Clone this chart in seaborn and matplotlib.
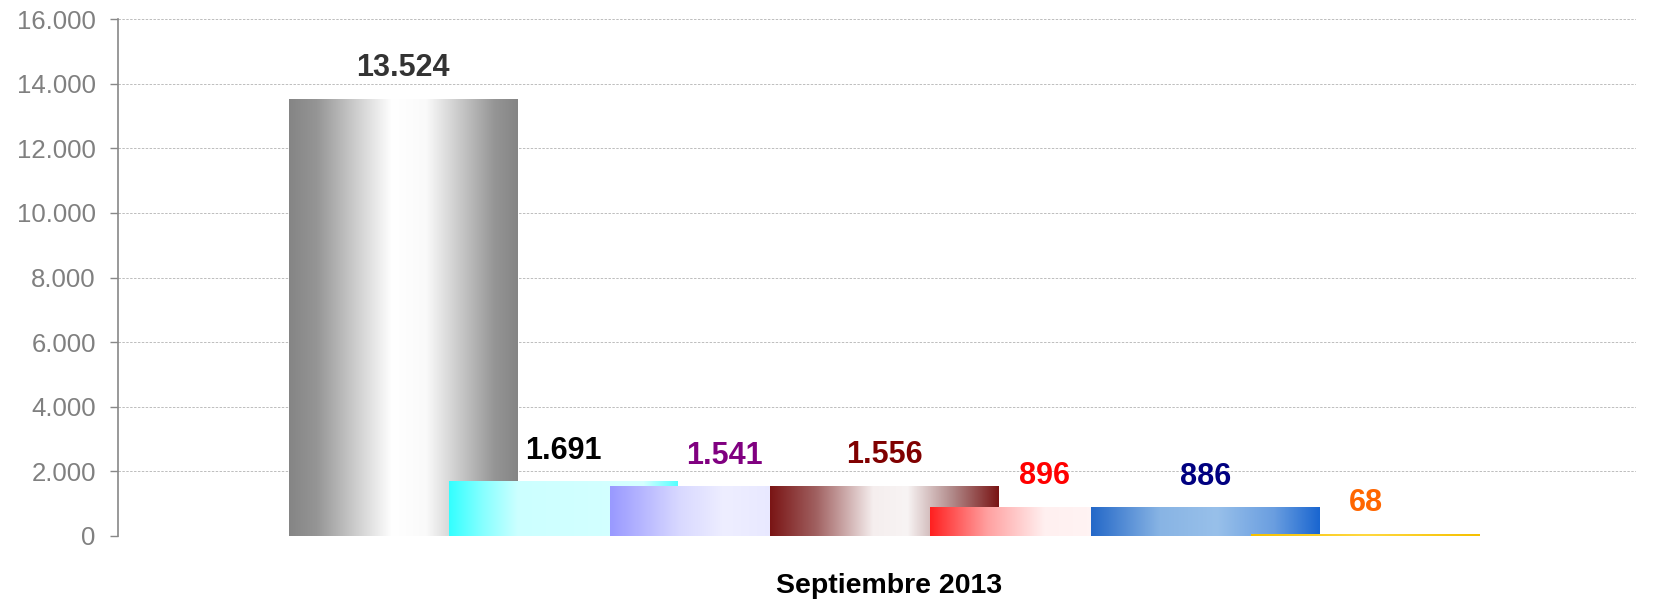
import seaborn as sns
import matplotlib.pyplot as plt
import pandas as pd
import numpy as np
from matplotlib.colors import LinearSegmentedColormap
from matplotlib.ticker import FuncFormatter

# Data
periodo = ['Septiembre 2013']
series = ['Serie 1', 'Serie 2', 'Serie 3', 'Serie 4', 'Serie 5', 'Serie 6', 'Serie 7']
valores = [13524, 1691, 1541, 1556, 896, 886, 68]
label_colors = ['#333333', '#000000', '#800080', '#800000', '#ff0000', '#000080', '#ff6600']

# horizontal gradient stops for each bar
gradients = [
    [(0, '#858585'), (0.12, '#959595'), (0.3, '#d0d0d0'), (0.45, '#ffffff'),
     (0.6, '#fafafa'), (0.75, '#c8c8c8'), (0.9, '#959595'), (1, '#858585')],
    [(0, '#33ffff'), (0.15, '#88ffff'), (0.3, '#ccffff'), (0.85, '#d5ffff'), (1, '#55ffff')],
    [(0, '#9999ff'), (0.3, '#d8d8ff'), (0.5, '#eeeeff'), (1, '#e0e0ff')],
    [(0, '#7a1515'), (0.2, '#a06060'), (0.45, '#f5eeee'), (0.6, '#f8f4f4'),
     (0.8, '#b08888'), (1, '#7a1515')],
    [(0, '#ff2020'), (0.25, '#ffa0a0'), (0.5, '#fff0f0'), (0.75, '#fff4f4'), (1, '#ffd0d0')],
    [(0, '#2468c8'), (0.3, '#88b4e4'), (0.55, '#98c0ea'), (0.8, '#6a9ee0'), (1, '#1a66d0')],
    [(0, '#f5c000'), (0.5, '#ffd840'), (1, '#f5c000')],
]

df = pd.DataFrame({'periodo': periodo * len(series), 'serie': series, 'valor': valores})

sns.set_theme(style='white')
plt.rcParams['font.family'] = ['Liberation Sans', 'DejaVu Sans']

fig = plt.figure(figsize=(16.6, 6), dpi=100)
ax = fig.add_axes([0.0711, 0.1067, 0.9144, 0.8616])

sns.barplot(data=df, x='periodo', y='valor', hue='serie', hue_order=series,
            width=0.74, dodge=True, legend=False, ax=ax, errorbar=None)

bar_w = 0.1507
for i, (cont, stops) in enumerate(zip(ax.containers, gradients)):
    cmap = LinearSegmentedColormap.from_list(f'g{i}', stops)
    grad = np.linspace(0, 1, 256).reshape(1, -1)
    for patch in cont.patches:
        patch.set_width(bar_w)
        patch.set_facecolor('none')
        patch.set_edgecolor('none')
        x0 = patch.get_x()
        h = patch.get_height()
        im = ax.imshow(grad, cmap=cmap, aspect='auto', extent=[x0, x0 + bar_w, 0, h],
                       zorder=2 + i, interpolation='bilinear')
        im.set_clip_path(patch)
        ax.annotate(f'{h:,.0f}'.replace(',', '.'), (x0 + bar_w / 2, h),
                    xytext=(0, 22), textcoords='offset points', ha='center', va='center',
                    fontsize=22, fontweight='bold', color=label_colors[i], zorder=20)

ax.set_xlim(-0.4824, 0.5176)
ax.set_ylim(0, 16000)
ax.set_yticks(np.arange(0, 16001, 2000))
ax.yaxis.set_major_formatter(FuncFormatter(lambda v, p: f'{v:,.0f}'.replace(',', '.')))
ax.tick_params(axis='y', left=True, length=6, width=1, color='#888888', labelsize=18.5,
               labelcolor='#808080', pad=10)
ax.tick_params(axis='x', bottom=False, labelbottom=False)
ax.grid(axis='y', color='#bdbdbd', linestyle=(0, (2.5, 1.5)), linewidth=0.7, zorder=0)
ax.set_axisbelow(True)

for s in ['top', 'right', 'bottom']:
    ax.spines[s].set_visible(False)
ax.spines['left'].set_color('#888888')
ax.spines['left'].set_linewidth(1.2)

ax.set_ylabel('')
ax.set_xlabel('Septiembre 2013', fontsize=20.5, fontweight='bold', color='black')
ax.xaxis.set_label_coords(0.508, -0.072)

fig.savefig('out.png', dpi=100)
